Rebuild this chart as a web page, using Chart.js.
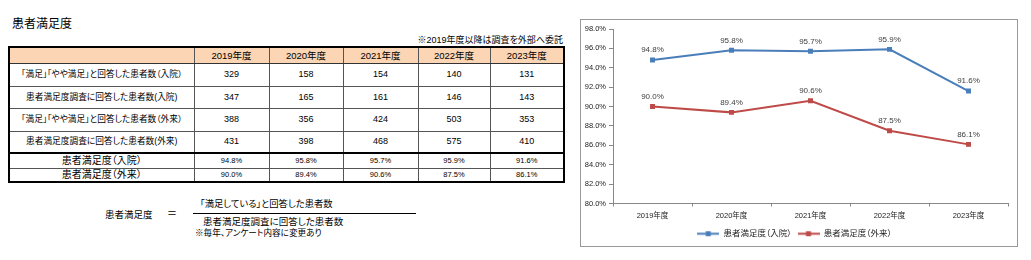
<!DOCTYPE html>
<html><head><meta charset="utf-8">
<script src="https://cdn.jsdelivr.net/npm/chart.js@4.4.1/dist/chart.umd.min.js"></script>
<style>
body{margin:0;width:1031px;height:260px;background:#fff;font-family:"Liberation Sans","Noto Sans CJK JP",sans-serif;font-feature-settings:"palt";color:#000;position:relative;overflow:hidden}
.abs{position:absolute;white-space:nowrap;line-height:1}
#title{left:12px;top:18px;font-size:12px}
#note{right:468px;top:36px;font-size:9px}
#tbl{position:absolute;left:8px;top:46px;border-collapse:collapse;table-layout:fixed;border:2px solid #000}
#tbl td{border:1px solid #555;text-align:center;padding:0;font-size:9px;overflow:hidden;white-space:nowrap;line-height:1}
#tbl td.cl{font-size:8.7px}
#tbl tr.hd td{background:#FCD5B4;font-size:9.5px;border-bottom:1px solid #333}
#tbl tr.sep td{border-top:2px solid #000}
#tbl tr.rate td{font-size:7.5px}
#tbl tr.rate td.lab{font-size:10px}
#box{position:absolute;left:580px;top:19px;width:436px;height:226px;border:1px solid #999}
#box canvas{position:absolute;left:0;top:0}
#fl{left:105px;top:210px;font-size:9.5px}
#eq{left:167px;top:209px;font-size:10px}
#num{left:200px;top:200px;font-size:9.3px}
#bar{position:absolute;left:193px;top:213px;width:223px;height:1px;background:#000}
#den{left:203px;top:217px;font-size:9.5px}
#fnote{left:195px;top:229px;font-size:8.6px}
</style></head>
<body>
<div id="title" class="abs">患者満足度</div>
<div id="note" class="abs">※2019年度以降は調査を外部へ委託</div>
<table id="tbl"><colgroup><col style="width:185px"><col style="width:75px"><col style="width:74px"><col style="width:75px"><col style="width:72px"><col style="width:74px"></colgroup><tbody id="tb"></tbody></table>
<div id="fl" class="abs">患者満足度</div>
<div id="eq" class="abs">＝</div>
<div id="num" class="abs">「満足している」と回答した患者数</div>
<div id="bar"></div>
<div id="den" class="abs">患者満足度調査に回答した患者数</div>
<div id="fnote" class="abs">※毎年、アンケート内容に変更あり</div>
<div id="box"><canvas id="c" width="436" height="228"></canvas></div>
<script>
const years = ['2019年度','2020年度','2021年度','2022年度','2023年度'];
const inSatisfied = [329,158,154,140,131];
const inRespondents = [347,165,161,146,143];
const outSatisfied = [388,356,424,503,353];
const outRespondents = [431,398,468,575,410];
const inRate = [94.8,95.8,95.7,95.9,91.6];
const outRate = [90.0,89.4,90.6,87.5,86.1];
const countLabels = ['「満足」「やや満足」と回答した患者数（入院）','患者満足度調査に回答した患者数(入院)','「満足」「やや満足」と回答した患者数（外来）','患者満足度調査に回答した患者数(外来)'];
const rateLabels = ['患者満足度（入院）','患者満足度（外来）'];
const yMin = 80, yMax = 98, yStep = 2;

// table
const tb = document.getElementById('tb');
function addRow(cls, h, cells, labCls){
  const tr = document.createElement('tr'); if(cls) tr.className = cls; tr.style.height = h+'px';
  cells.forEach((t,i)=>{const td=document.createElement('td'); td.textContent=t; if(i===0&&labCls) td.className=labCls; tr.appendChild(td);});
  tb.appendChild(tr);
}
addRow('hd',16,[''].concat(years));
const counts = [inSatisfied,inRespondents,outSatisfied,outRespondents];
const hs = [23,22,23,22];
counts.forEach((arr,i)=>addRow('',hs[i],[countLabels[i]].concat(arr.map(String)),'cl'));
addRow('rate sep',15,[rateLabels[0]].concat(inRate.map(v=>v.toFixed(1)+'%')),'lab');
addRow('rate',14,[rateLabels[1]].concat(outRate.map(v=>v.toFixed(1)+'%')),'lab');

// chart
const FONT = '"Liberation Sans","Noto Sans CJK JP",sans-serif';
const BLUE = '#4A7EBB', RED = '#BE4B48';
function legendMark(color){
  const c=document.createElement('canvas');c.width=22;c.height=7;
  const g=c.getContext('2d');g.strokeStyle=color;g.lineWidth=2;
  g.beginPath();g.moveTo(0,3.5);g.lineTo(22,3.5);g.stroke();
  g.fillStyle=color;g.fillRect(8.5,1,5,5);return c;
}
const valueLabels = {id:'valueLabels',afterDatasetsDraw(chart){
  const ctx=chart.ctx;ctx.save();ctx.font='8px '+FONT;ctx.fillStyle='#404040';
  ctx.textAlign='center';ctx.textBaseline='middle';
  chart.data.datasets.forEach((ds,i)=>{chart.getDatasetMeta(i).data.forEach((pt,j)=>{
    ctx.fillText(ds.data[j].toFixed(1)+'%',pt.x,pt.y-10);});});
  ctx.restore();}};
new Chart(document.getElementById('c'),{
  type:'line',
  data:{labels:years,datasets:[
    {label:rateLabels[0],data:inRate,borderColor:BLUE,backgroundColor:BLUE,borderWidth:2,pointStyle:'rect',pointRadius:3.5,pointBorderWidth:0,tension:0},
    {label:rateLabels[1],data:outRate,borderColor:RED,backgroundColor:RED,borderWidth:2,pointStyle:'rect',pointRadius:3.5,pointBorderWidth:0,tension:0}
  ]},
  options:{responsive:false,animation:false,devicePixelRatio:1,
    layout:{padding:{top:9,right:9,left:0,bottom:0}},
    scales:{
      x:{offset:true,grid:{drawOnChartArea:false,offset:true,tickLength:3,color:'#888'},border:{color:'#888'},
        ticks:{font:{size:7.5,family:FONT},color:'#222',padding:5},afterFit(s){s.height=20;}},
      y:{min:yMin,max:yMax,grid:{drawOnChartArea:false,tickLength:4,color:'#888'},border:{color:'#888'},
        ticks:{stepSize:yStep,font:{size:7.5,family:FONT},color:'#222',padding:3,callback:v=>v.toFixed(1)+'%'},afterFit(s){s.width=32;}}
    },
    plugins:{tooltip:{enabled:false},
      legend:{position:'bottom',labels:{usePointStyle:true,pointStyleWidth:22,boxHeight:7,padding:6,font:{size:8.5,family:FONT},color:'#222',
        generateLabels(chart){return Chart.defaults.plugins.legend.labels.generateLabels(chart).map((l,i)=>{l.pointStyle=legendMark(i?RED:BLUE);return l;});}}}
    }
  },
  plugins:[valueLabels]
});
</script>
</body></html>
